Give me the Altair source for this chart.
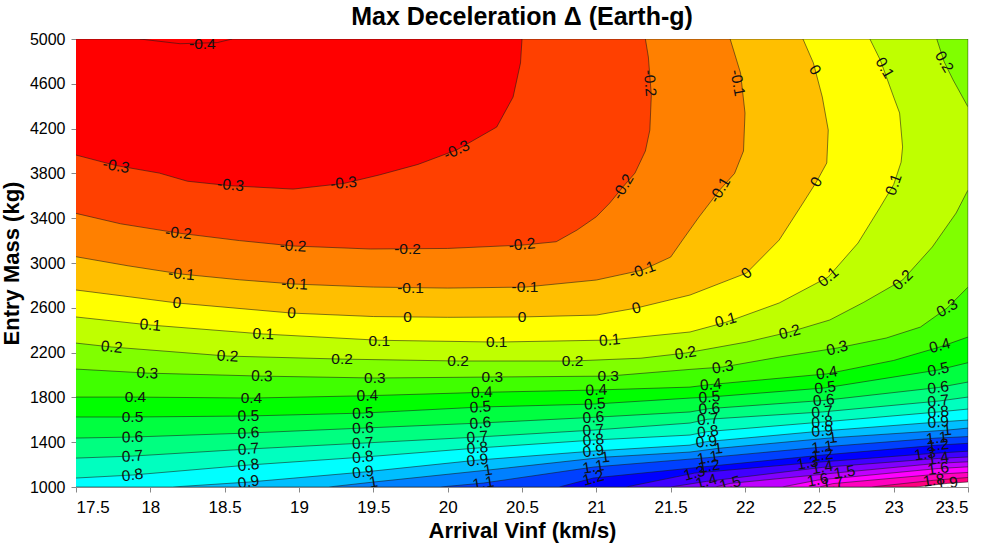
import altair as alt
import pandas as pd

# ---------------- axis ticks ----------------
X_TICKS = [17.5, 18, 18.5, 19, 19.5, 20, 20.5, 21, 21.5, 22, 22.5, 23, 23.5]
Y_TICKS = [1000, 1400, 1800, 2200, 2600, 3000, 3400, 3800, 4200, 4600, 5000]

# ---------------- contour lines (Arrival Vinf, Entry Mass) ----------------
C_M04_X = [17.93, 18.2, 18.45, 18.55]
C_M04_Y = [5000, 4958, 4968, 5000]
C_M03_X = [17.5, 17.77, 18.06, 18.25, 18.54, 18.96, 19.3, 19.54, 19.8, 20.06, 20.33, 20.44, 20.49, 20.5]
C_M03_Y = [3964, 3870, 3803, 3730, 3690, 3660, 3710, 3786, 3880, 4009, 4214, 4482, 4786, 5000]
C_M02_X = [17.5, 17.8, 18.19, 18.6, 18.96, 19.48, 20.0, 20.5, 20.73, 20.87, 21.0, 21.09, 21.18, 21.26, 21.33, 21.36, 21.37, 21.35, 21.33]
C_M02_Y = [3443, 3350, 3267, 3200, 3152, 3125, 3130, 3160, 3190, 3294, 3413, 3535, 3681, 3803, 4000, 4187, 4500, 4839, 5000]
C_M01_X = [17.5, 17.85, 18.21, 18.6, 18.97, 19.5, 20.0, 20.52, 21.0, 21.31, 21.5, 21.58, 21.69, 21.83, 21.93, 21.99, 22.0, 21.97, 21.9]
C_M01_Y = [3056, 2975, 2901, 2850, 2812, 2785, 2776, 2785, 2848, 2937, 3053, 3205, 3410, 3652, 3800, 4000, 4339, 4696, 5000]
C_00_X = [17.5, 17.85, 18.18, 18.95, 19.5, 20.0, 20.5, 21.0, 21.27, 21.63, 22.01, 22.23, 22.39, 22.48, 22.55, 22.56, 22.52, 22.46, 22.39]
C_00_Y = [2759, 2700, 2643, 2553, 2522, 2515, 2518, 2535, 2598, 2714, 2910, 3205, 3535, 3723, 3893, 4187, 4482, 4786, 5000]
C_01_X = [17.5, 18.0, 18.76, 19.54, 20.33, 21.09, 21.63, 21.87, 22.23, 22.56, 22.76, 22.91, 23.0, 23.05, 23.06, 23.04, 23.0, 22.91, 22.84]
C_01_Y = [2518, 2446, 2366, 2310, 2294, 2312, 2384, 2470, 2643, 2875, 3178, 3500, 3700, 3900, 4036, 4339, 4482, 4812, 5000]
C_02_X = [17.5, 17.74, 18.52, 19.29, 20.07, 20.84, 21.3, 21.6, 22.01, 22.3, 22.57, 22.8, 23.06, 23.26, 23.42, 23.5, 23.5, 23.4, 23.34, 23.29]
C_02_Y = [2285, 2250, 2169, 2142, 2125, 2125, 2150, 2196, 2294, 2384, 2491, 2650, 2848, 3143, 3446, 3652, 4393, 4634, 4795, 5000]
C_03_X = [17.5, 17.98, 18.75, 19.51, 20.3, 21.08, 21.63, 21.85, 22.23, 22.62, 22.95, 23.18, 23.36, 23.5]
C_03_Y = [2053, 2017, 1990, 1973, 1982, 1990, 2050, 2071, 2160, 2241, 2330, 2428, 2598, 2785]
C_04_X = [17.5, 17.9, 18.68, 19.46, 20.23, 21.0, 21.63, 21.77, 22.55, 23.0, 23.31, 23.5]
C_04_Y = [1803, 1803, 1794, 1815, 1845, 1866, 1892, 1915, 2010, 2130, 2250, 2339]
C_05_X = [17.5, 17.88, 18.66, 19.43, 20.22, 20.99, 21.63, 21.76, 22.54, 23.3, 23.5]
C_05_Y = [1625, 1625, 1634, 1660, 1714, 1741, 1794, 1803, 1885, 2045, 2110]
C_06_X = [17.5, 17.88, 18.66, 19.43, 20.22, 20.98, 21.63, 21.76, 22.53, 23.3, 23.5]
C_06_Y = [1437, 1446, 1482, 1526, 1571, 1622, 1670, 1700, 1773, 1888, 1937]
C_07_X = [17.5, 17.88, 18.66, 19.43, 20.2, 20.98, 21.63, 21.75, 22.52, 23.3, 23.5]
C_07_Y = [1258, 1276, 1339, 1392, 1446, 1508, 1571, 1605, 1670, 1767, 1803]
C_08_X = [17.5, 17.88, 18.66, 19.43, 20.2, 20.98, 21.63, 21.75, 22.52, 23.3, 23.5]
C_08_Y = [1080, 1107, 1196, 1267, 1348, 1419, 1464, 1495, 1580, 1670, 1696]
C_09_X = [18.15, 18.66, 19.43, 20.2, 20.98, 21.63, 21.74, 22.52, 23.3, 23.5]
C_09_Y = [1000, 1044, 1133, 1240, 1321, 1374, 1405, 1500, 1580, 1598]
C_10_X = [19.2, 19.5, 20.27, 21.06, 21.63, 21.82, 22.59, 23.36, 23.5]
C_10_Y = [1000, 1044, 1151, 1267, 1312, 1345, 1440, 1508, 1526]
C_11_X = [19.95, 20.24, 20.98, 21.75, 22.52, 23.29, 23.5]
C_11_Y = [1000, 1035, 1178, 1262, 1357, 1437, 1450]
C_12_X = [20.75, 20.98, 21.76, 22.52, 23.3, 23.5]
C_12_Y = [1000, 1080, 1185, 1285, 1374, 1390]
C_13_X = [21.2, 21.66, 22.42, 23.21, 23.5]
C_13_Y = [1000, 1124, 1214, 1295, 1320]
C_14_X = [21.5, 21.74, 22.52, 23.3, 23.5]
C_14_Y = [1000, 1050, 1175, 1255, 1268]
C_15_X = [21.8, 21.9, 22.67, 23.3, 23.5]
C_15_Y = [1000, 1032, 1133, 1212, 1225]
C_16_X = [22.25, 22.49, 23.3, 23.5]
C_16_Y = [1000, 1062, 1165, 1180]
C_17_X = [22.5, 22.59, 23.3, 23.5]
C_17_Y = [1000, 1030, 1115, 1130]
C_18_X = [22.85, 23.27, 23.5]
C_18_Y = [1000, 1060, 1085]
C_19_X = [23.15, 23.36, 23.5]
C_19_Y = [1000, 1032, 1045]

LEVEL_NAMES = ["1.9", "1.8", "1.7", "1.6", "1.5", "1.4", "1.3", "1.2", "1.1", "1", "0.9", "0.8",
               "0.7", "0.6", "0.5", "0.4", "0.3", "0.2", "0.1", "0", "-0.1", "-0.2", "-0.3", "-0.4"]
LEVEL_LINES = [(C_19_X, C_19_Y), (C_18_X, C_18_Y), (C_17_X, C_17_Y), (C_16_X, C_16_Y),
               (C_15_X, C_15_Y), (C_14_X, C_14_Y), (C_13_X, C_13_Y), (C_12_X, C_12_Y),
               (C_11_X, C_11_Y), (C_10_X, C_10_Y), (C_09_X, C_09_Y), (C_08_X, C_08_Y),
               (C_07_X, C_07_Y), (C_06_X, C_06_Y), (C_05_X, C_05_Y), (C_04_X, C_04_Y),
               (C_03_X, C_03_Y), (C_02_X, C_02_Y), (C_01_X, C_01_Y), (C_00_X, C_00_Y),
               (C_M01_X, C_M01_Y), (C_M02_X, C_M02_Y), (C_M03_X, C_M03_Y), (C_M04_X, C_M04_Y)]
# fill colour of the region just below each level (hsv colormap)
LEVEL_FILL = ["#FF0080", "#FF00BF", "#FF00FF", "#BF00FF", "#8000FF", "#4000FF", "#0000FF", "#0040FF",
              "#0080FF", "#00BFFF", "#00FFFF", "#00FFBF", "#00FF80", "#00FF40", "#00FF00", "#40FF00",
              "#80FF00", "#BFFF00", "#FFFF00", "#FFBF00", "#FF8000", "#FF4000", "#FF0000", "#FF0000"]
TOP_FILL = "#FF0040"

# ---------------- contour labels ----------------
LABEL_TEXT = ["-0.4",
              "-0.3", "-0.3", "-0.3", "-0.3",
              "-0.2", "-0.2", "-0.2", "-0.2", "-0.2", "-0.2",
              "-0.1", "-0.1", "-0.1", "-0.1", "-0.1", "-0.1", "-0.1",
              "0", "0", "0", "0", "0", "0", "0", "0",
              "0.1", "0.1", "0.1", "0.1", "0.1", "0.1", "0.1", "0.1", "0.1",
              "0.2", "0.2", "0.2", "0.2", "0.2", "0.2", "0.2", "0.2", "0.2",
              "0.3", "0.3", "0.3", "0.3", "0.3", "0.3", "0.3", "0.3",
              "0.4", "0.4", "0.4", "0.4", "0.4", "0.4", "0.4", "0.4",
              "0.5", "0.5", "0.5", "0.5", "0.5", "0.5", "0.5", "0.5",
              "0.6", "0.6", "0.6", "0.6", "0.6", "0.6", "0.6", "0.6",
              "0.7", "0.7", "0.7", "0.7", "0.7", "0.7", "0.7", "0.7",
              "0.8", "0.8", "0.8", "0.8", "0.8", "0.8", "0.8", "0.8",
              "0.9", "0.9", "0.9", "0.9", "0.9", "0.9", "0.9",
              "1", "1", "1", "1", "1", "1",
              "1.1", "1.1", "1.1", "1.1", "1.1",
              "1.2", "1.2", "1.2", "1.2",
              "1.3", "1.3", "1.3",
              "1.4", "1.4", "1.4",
              "1.5", "1.5",
              "1.6", "1.6",
              "1.7", "1.8", "1.9"]
LABEL_X = [18.35,
           17.77, 18.54, 19.3, 20.06,
           18.19, 18.96, 19.73, 20.5, 21.18, 21.36,
           18.21, 18.97, 19.75, 20.52, 21.31, 21.83, 21.95,
           18.18, 18.95, 19.73, 20.5, 21.27, 22.01, 22.48, 22.47,
           18.0, 18.76, 19.54, 20.33, 21.09, 21.87, 22.56, 23.0, 22.94,
           17.74, 18.52, 19.29, 20.07, 20.84, 21.6, 22.3, 23.06, 23.34,
           17.98, 18.75, 19.51, 20.3, 21.08, 21.85, 22.62, 23.36,
           17.9, 18.68, 19.46, 20.23, 21.0, 21.77, 22.55, 23.31,
           17.88, 18.66, 19.43, 20.22, 20.99, 21.76, 22.54, 23.3,
           17.88, 18.66, 19.43, 20.22, 20.98, 21.76, 22.53, 23.3,
           17.88, 18.66, 19.43, 20.2, 20.98, 21.75, 22.52, 23.3,
           17.88, 18.66, 19.43, 20.2, 20.98, 21.75, 22.52, 23.3,
           18.66, 19.43, 20.2, 20.98, 21.74, 22.52, 23.3,
           19.5, 20.27, 21.06, 21.82, 22.59, 23.36,
           20.24, 20.98, 21.75, 22.52, 23.29,
           20.98, 21.76, 22.52, 23.3,
           21.66, 22.42, 23.21,
           21.74, 22.52, 23.3,
           21.9, 22.67,
           22.49, 23.3,
           22.59, 23.27, 23.36]
LABEL_Y = [4955,
           3866, 3696, 3714, 4009,
           3267, 3152, 3125, 3165, 3681, 4607,
           2901, 2812, 2776, 2785, 2937, 3652, 4607,
           2643, 2553, 2518, 2518, 2598, 2910, 3723, 4723,
           2446, 2366, 2300, 2294, 2312, 2491, 2875, 3700, 4741,
           2250, 2169, 2142, 2125, 2125, 2196, 2384, 2848, 4795,
           2017, 1990, 1973, 1982, 1990, 2071, 2241, 2598,
           1803, 1794, 1815, 1845, 1866, 1915, 2018, 2262,
           1625, 1634, 1660, 1714, 1741, 1803, 1888, 2050,
           1446, 1482, 1526, 1571, 1622, 1700, 1775, 1888,
           1276, 1339, 1392, 1446, 1508, 1605, 1670, 1767,
           1107, 1196, 1267, 1348, 1419, 1495, 1580, 1670,
           1044, 1133, 1240, 1321, 1405, 1500, 1580,
           1044, 1151, 1267, 1345, 1440, 1508,
           1035, 1178, 1262, 1357, 1437,
           1080, 1185, 1285, 1374,
           1124, 1214, 1295,
           1050, 1175, 1255,
           1032, 1133,
           1062, 1165,
           1030, 1060, 1032]
LABEL_ANGLE = [0,
               10, 5, 355, 335,
               5, 3, 0, 355, 300, 85,
               5, 3, 0, 0, 340, 300, 80,
               5, 3, 0, 0, 345, 320, 300, 60,
               5, 3, 0, 0, 355, 345, 320, 290, 60,
               5, 3, 0, 0, 0, 350, 345, 315, 60,
               3, 2, 0, 0, 0, 350, 345, 330,
               0, 0, 358, 358, 357, 355, 350, 345,
               0, 358, 357, 356, 356, 355, 352, 348,
               358, 356, 356, 355, 355, 355, 354, 352,
               355, 355, 355, 355, 355, 355, 354, 354,
               352, 353, 354, 354, 354, 354, 354, 355,
               350, 352, 353, 353, 354, 354, 355,
               350, 350, 352, 352, 352, 354,
               350, 350, 350, 352, 354,
               345, 350, 352, 354,
               345, 350, 352,
               345, 350, 352,
               345, 350,
               350, 352,
               350, 352, 352]

X_MIN, X_MAX = 17.5, 23.5
Y_MIN, Y_MAX = 1000, 5000

# ---------------- build polygon table: region "value <= level" ----------------
rows = []
for name, (xs, ys) in zip(LEVEL_NAMES, LEVEL_LINES):
    pts = list(zip(xs, ys))
    if ys[0] == Y_MIN and xs[0] > X_MIN:
        pts.insert(0, (X_MIN, Y_MIN))
    if xs[-1] == X_MAX:
        pts.append((X_MAX, Y_MAX))
    if name != "-0.4":
        pts.append((X_MIN, Y_MAX))
    for i, (x, y) in enumerate(pts):
        rows.append({"key": name, "i": i, "x": x, "y": y})
poly = pd.DataFrame(rows)
labels = pd.DataFrame({"x": LABEL_X, "y": LABEL_Y, "t": LABEL_TEXT, "a": LABEL_ANGLE})

FONT = "Liberation Sans"
xenc = alt.X("x:Q", scale=alt.Scale(domain=[X_MIN, X_MAX], nice=False, zero=False),
             axis=alt.Axis(values=X_TICKS, title="Arrival Vinf (km/s)", format="~g",
                           labelFontSize=17, titleFontSize=22, labelPadding=7, titlePadding=5))
yenc = alt.Y("y:Q", scale=alt.Scale(domain=[Y_MIN, Y_MAX], nice=False, zero=False),
             axis=alt.Axis(values=Y_TICKS, title="Entry Mass (kg)", format="d",
                           labelFontSize=16, titleFontSize=22, labelPadding=6, titlePadding=6))

layers = []
for name, col in zip(LEVEL_NAMES, LEVEL_FILL):
    layers.append(
        alt.Chart(poly).transform_filter(alt.datum.key == name)
        .mark_line(filled=True, fill=col, stroke="#1a1a1a", strokeWidth=0.7,
                   strokeOpacity=0.8, clip=True, interpolate="linear")
        .encode(x=xenc, y=yenc, order=alt.Order("i:Q"))
    )

text = alt.Chart(labels).mark_text(font=FONT, fontSize=15.5, color="#111111", clip=True).encode(
    x=xenc, y=yenc, text="t:N", angle=alt.Angle("a:Q", scale=None)
)
layers.append(text)

chart = alt.layer(*layers).properties(
    width=892, height=448,
    title=alt.TitleParams("Max Deceleration \u0394 (Earth-g)", font=FONT, fontSize=25,
                          fontWeight="bold", color="#000000", offset=1, anchor="middle"),
    padding={"left": 76, "top": 39, "right": 22, "bottom": 58},
    autosize=alt.AutoSizeParams(type="none"),
).configure_view(
    fill=TOP_FILL, stroke="#262626", strokeWidth=1
).configure_axis(
    labelFont=FONT, titleFont=FONT, titleFontWeight="bold", labelColor="#262626",
    titleColor="#1a1a1a", grid=True, gridColor="#000000", gridOpacity=0.08,
    domain=False, ticks=False, zindex=1
).configure(background="white")

chart.save("out.html", embed_options={"renderer": "svg", "actions": False})
